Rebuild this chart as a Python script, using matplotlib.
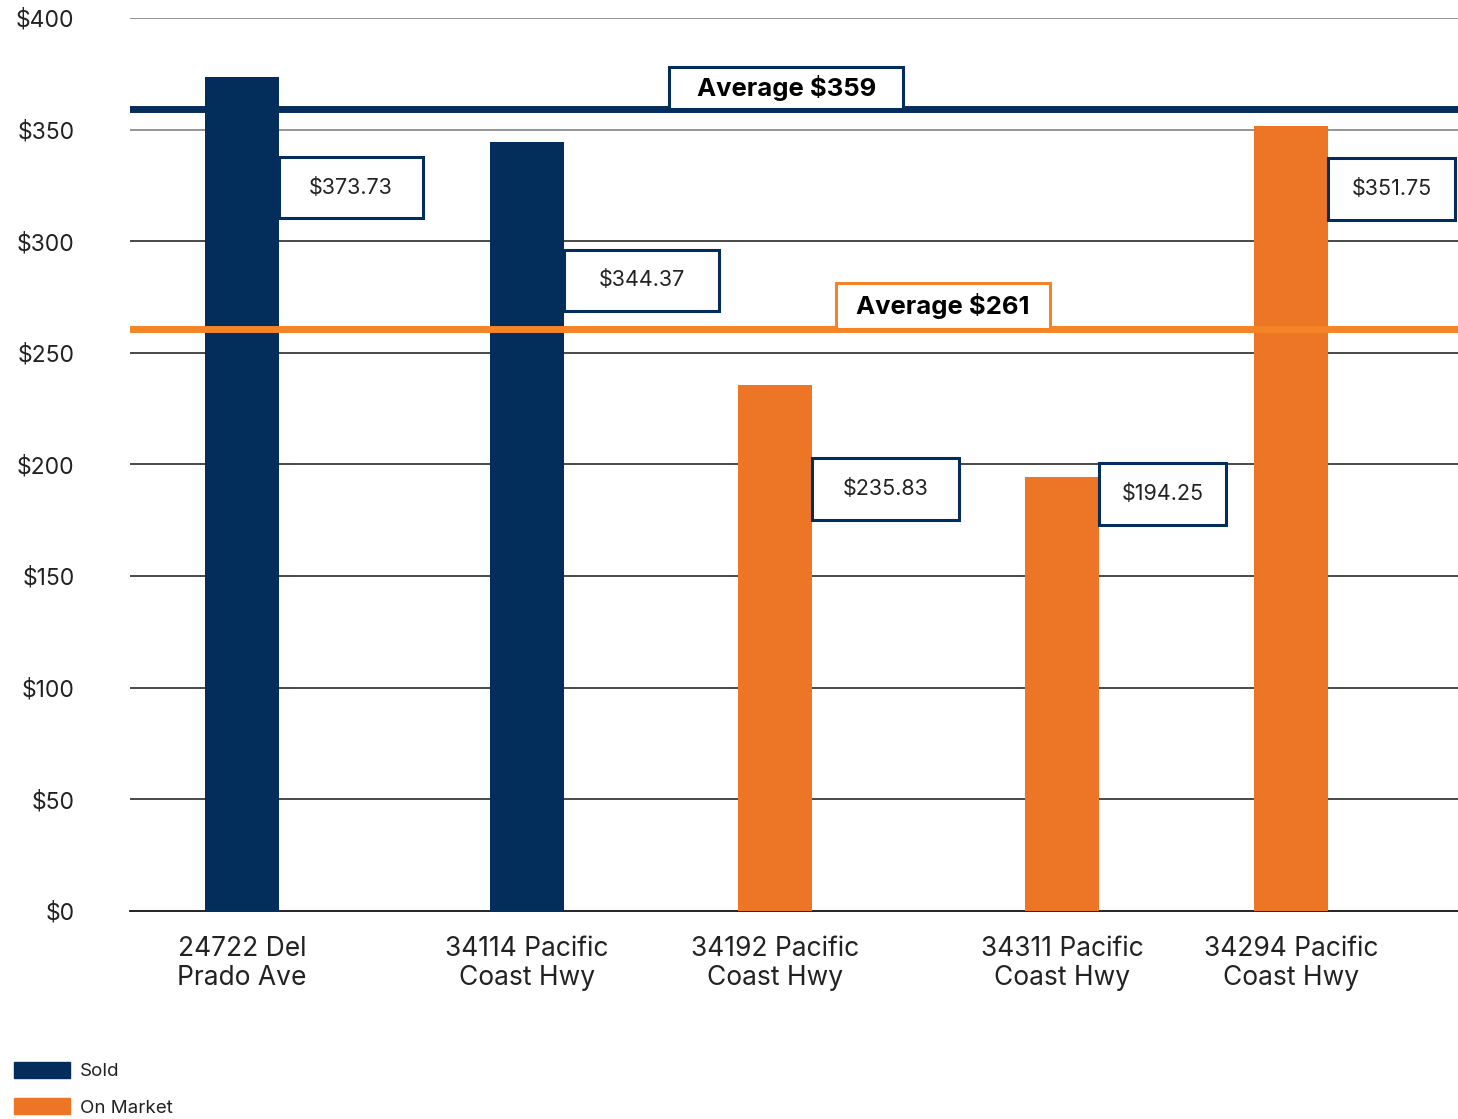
import numpy as np
import matplotlib
matplotlib.use("Agg")
import matplotlib.pyplot as plt
from matplotlib.patches import Rectangle, Patch

plt.rcParams['font.family'] = ['Inter', 'DejaVu Sans']

# Preis pro Quadratfuss je Objekt
adressen = ['24722 Del\nPrado Ave', '34114 Pacific\nCoast Hwy', '34192 Pacific\nCoast Hwy',
            '34311 Pacific\nCoast Hwy', '34294 Pacific\nCoast Hwy']
preise = [373.73, 344.37, 235.83, 194.25, 351.75]
status = ['Sold', 'Sold', 'On Market', 'On Market', 'On Market']
y_ticks = [0, 50, 100, 150, 200, 250, 300, 350, 400]

NAVY = '#032D5B'
ORANGE = '#EC7625'
ORANGE_LINE = '#F58426'
farben = {'Sold': NAVY, 'On Market': ORANGE}

# Layout: Lage der Kategorien auf der x-Achse, Wertekaesten rechts neben den Balken
x_pos = [0, 1.087, 2.032, 3.127, 4.0]
kasten_y = [324, 282.6, 189, 186.8, 323.4]
kasten_b = [0.55, 0.59, 0.56, 0.485, 0.485]

fig = plt.figure(figsize=(14.58, 11.19), dpi=100)
ax = fig.add_axes([0.0892, 0.1859, 0.9108, 0.798])

breite = 0.282
ax.bar(x_pos, preise, width=breite, color=[farben[s] for s in status], zorder=3)

ax.set_xlim(-0.427, 4.637)
ax.set_ylim(0, 400)

# Gitterlinien
for v in y_ticks[1:]:
    ax.axhline(v, color='#8c8c8c' if v >= 350 else '#3a3a3a', lw=1.3, zorder=1)
for s in ['left', 'right', 'top']:
    ax.spines[s].set_visible(False)
ax.spines['bottom'].set_color('#111111')
ax.spines['bottom'].set_linewidth(1.3)

ax.set_yticks(y_ticks)
ax.set_yticklabels([f'${v}' for v in y_ticks], fontsize=16.5, color='#222222')
ax.tick_params(axis='y', length=0, pad=40)
ax.set_xticks(x_pos)
ax.set_xticklabels(adressen, fontsize=19, color='#222222', linespacing=1.15)
ax.tick_params(axis='x', length=0, pad=18)

# Durchschnittslinien
sold = [p for p, s in zip(preise, status) if s == 'Sold']
markt = [p for p, s in zip(preise, status) if s == 'On Market']
avg_sold = np.mean(sold)
avg_markt = np.mean(markt)
ax.axhline(avg_sold, xmin=0, xmax=0.998, color=NAVY, lw=5, zorder=4)
ax.axhline(avg_markt, xmin=0.002, xmax=0.998, color=ORANGE_LINE, lw=5, zorder=4)


def kasten(xl, yu, w, h, text, rand, **kw):
    ax.add_patch(Rectangle((xl, yu), w, h, facecolor='white', edgecolor=rand,
                           lw=2.2, zorder=5))
    ax.text(xl + w / 2, yu + h / 2, text, ha='center', va='center', zorder=6, **kw)


kasten(1.63, avg_sold, 0.89, 18.8, f'Average ${avg_sold:.0f}', NAVY,
       fontsize=18.5, fontweight='bold', color='black')
kasten(2.265, avg_markt, 0.815, 20.5, f'Average ${avg_markt:.0f}', ORANGE_LINE,
       fontsize=18.5, fontweight='bold', color='black')

for xi, p, ky, kb in zip(x_pos, preise, kasten_y, kasten_b):
    kasten(xi + breite / 2, ky - 13.7, kb, 27.4, f'${p:.2f}', NAVY,
           fontsize=15.5, color='#222222')

# Legende unten links
griffe = [Patch(color=NAVY, label='Sold'), Patch(color=ORANGE, label='On Market')]
fig.legend(handles=griffe, loc='lower left', bbox_to_anchor=(0.0096, 0.002),
           frameon=False, fontsize=13.5, handlelength=3.0, handleheight=0.95,
           handletextpad=0.5, labelspacing=0.95, borderpad=0, borderaxespad=0,
           labelcolor='#222222')

fig.savefig('out.png', dpi=100)
